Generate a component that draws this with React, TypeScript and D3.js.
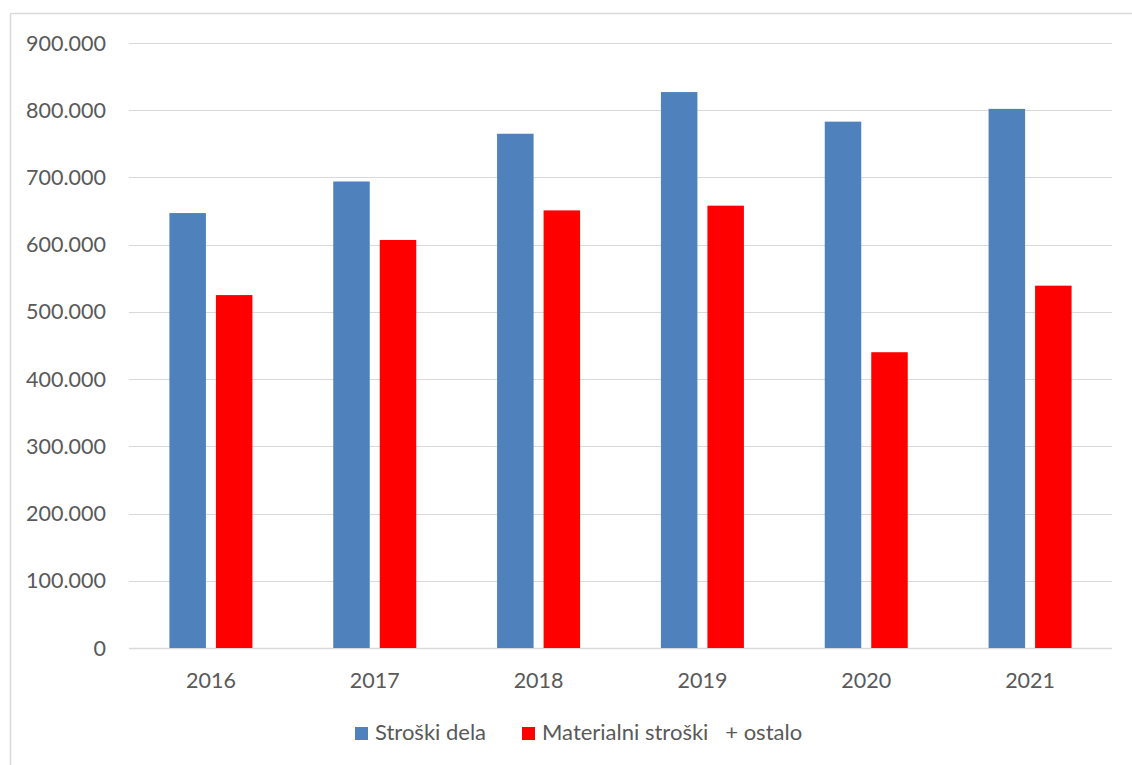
import React from "react";
import * as d3 from "d3";

const years = ["2016", "2017", "2018", "2019", "2020", "2021"];
const series = ["Stroški dela", "Materialni stroški   + ostalo"];
const strosKiDela = [647000, 694000, 765000, 827000, 783000, 802000];
const materialni = [525000, 607000, 651000, 658000, 440000, 539000];
const yTicks = [0, 100000, 200000, 300000, 400000, 500000, 600000, 700000, 800000, 900000];
const colors = ["#4f81bd", "#ff0000"];

const W = 1132;
const H = 765;
const FONT = "Lato, 'Open Sans', sans-serif";
const TEXT = "#595959";

export default function App() {
  const x = d3.scaleBand<string>().domain(years).range([129, 1112]).padding(0);
  const y = d3.scaleLinear().domain([0, 900000]).range([648, 43]);
  const half = 41.5;
  const inner = d3
    .scaleBand<string>()
    .domain(series)
    .range([-half, half])
    .paddingInner(10 / 46.5)
    .paddingOuter(0);
  const values = [strosKiDela, materialni];
  const fmt = (v: number) =>
    v === 0 ? "0" : d3.format(",")(v).replace(/,/g, ".");

  const legendX = [355, 522];

  return (
    <svg
      width={W}
      height={H}
      style={{ position: "absolute", left: 0, top: 0, background: "#fff" }}
      fontFamily={FONT}
    >
      <rect x={0} y={0} width={W} height={H} fill="#fff" />
      <rect x={10.5} y={13.5} width={W + 20} height={H + 20} fill="none" stroke="#d9d9d9" strokeWidth={1.5} />
      {yTicks.map((t) => (
        <g key={t}>
          <line x1={129} x2={1112} y1={Math.round(y(t)) + 0.5} y2={Math.round(y(t)) + 0.5} stroke="#d9d9d9" strokeWidth={t === 0 ? 1.5 : 1.2} />
          <text x={106} y={y(t) + 7.5} textAnchor="end" fontSize={21.5} fill={TEXT}>
            {fmt(t)}
          </text>
        </g>
      ))}
      {years.map((yr, i) => {
        const c = (x(yr) as number) + x.bandwidth() / 2;
        return (
          <g key={yr}>
            {series.map((s, k) => (
              <rect
                key={s}
                x={c + (inner(s) as number)}
                y={y(values[k][i])}
                width={inner.bandwidth()}
                height={y(0) - y(values[k][i])}
                fill={colors[k]}
              />
            ))}
            <text x={c} y={688} textAnchor="middle" fontSize={21.5} fill={TEXT}>
              {yr}
            </text>
          </g>
        );
      })}
      {series.map((s, k) => (
        <g key={s}>
          <rect x={legendX[k]} y={727} width={13} height={13} fill={colors[k]} />
          <text x={legendX[k] + 20} y={740} fontSize={22} fill={TEXT} style={{ whiteSpace: "pre" }}>
            {s}
          </text>
        </g>
      ))}
    </svg>
  );
}
